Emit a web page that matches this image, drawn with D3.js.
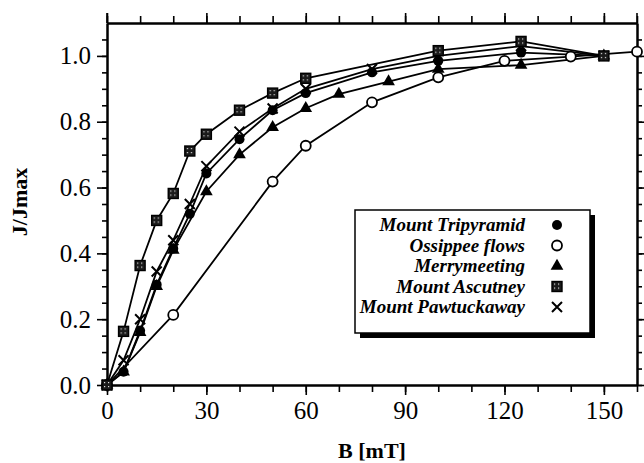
<!DOCTYPE html>
<html>
<head>
<meta charset="utf-8">
<script src="https://cdn.jsdelivr.net/npm/d3@7"></script>
<style>
  body { margin: 0; background: #fff; }
</style>
</head>
<body>
<div id="chart"></div>
<script>
// series values
const bTripyramid = [0, 5, 10, 15, 20, 25, 30, 40, 50, 60, 80, 100, 125, 150];
const jTripyramid = [0, 0.04, 0.165, 0.305, 0.415, 0.52, 0.643, 0.747, 0.835, 0.887, 0.95, 0.985, 1.01, 1.0];

const bOssipee = [0, 20, 50, 60, 80, 100, 120, 140, 160];
const jOssipee = [0, 0.213, 0.618, 0.727, 0.859, 0.935, 0.985, 0.998, 1.013];

const bMerry = [0, 5, 10, 15, 20, 30, 40, 50, 60, 70, 85, 100, 125, 150];
const jMerry = [0, 0.04, 0.16, 0.3, 0.41, 0.588, 0.70, 0.783, 0.841, 0.884, 0.922, 0.96, 0.972, 1.0];

const bAscutney = [0, 5, 10, 15, 20, 25, 30, 40, 50, 60, 100, 125, 150];
const jAscutney = [0, 0.163, 0.363, 0.50, 0.582, 0.711, 0.762, 0.835, 0.887, 0.932, 1.016, 1.044, 1.0];

const bPawtuck = [0, 5, 10, 15, 20, 25, 30, 40, 50, 60, 80, 100, 125, 150];
const jPawtuck = [0, 0.075, 0.2, 0.345, 0.44, 0.55, 0.665, 0.77, 0.84, 0.9, 0.96, 1.0, 1.03, 1.0];

const seriesNames = ["Mount Tripyramid", "Ossippee flows", "Merrymeeting", "Mount Ascutney", "Mount Pawtuckaway"];
const xTicks = [0, 30, 60, 90, 120, 150];
const yTicks = [0, 0.2, 0.4, 0.6, 0.8, 1.0];

const FONT = "Liberation Serif";

const series = [
  {name: seriesNames[2], b: bMerry, j: jMerry, mark: "triangle"},
  {name: seriesNames[1], b: bOssipee, j: jOssipee, mark: "open"},
  {name: seriesNames[4], b: bPawtuck, j: jPawtuck, mark: "x"},
  {name: seriesNames[0], b: bTripyramid, j: jTripyramid, mark: "dot"},
  {name: seriesNames[3], b: bAscutney, j: jAscutney, mark: "square"}
];

const W = 644, H = 463;
const margin = {top: 23, right: 7, bottom: 78, left: 107};
const width = W - margin.left - margin.right;
const height = H - margin.top - margin.bottom;

const svg = d3.select("#chart").append("svg")
  .attr("width", W).attr("height", H);

const defs = svg.append("defs");
const pat = defs.append("pattern")
  .attr("id", "speckle").attr("patternUnits", "userSpaceOnUse")
  .attr("width", 4).attr("height", 4);
pat.append("rect").attr("width", 4).attr("height", 4).attr("fill", "#1a1a1a");
pat.append("rect").attr("x", 1).attr("y", 1).attr("width", 1.2).attr("height", 1.2).attr("fill", "#ddd");

const g = svg.append("g").attr("transform", `translate(${margin.left},${margin.top})`);

const x = d3.scaleLinear().domain([0, 160]).range([0, width]);
const y = d3.scaleLinear().domain([0, 1.1]).range([height, 0]);

// minor ticks
const xMinor = d3.range(0, 161, 10);
const yMinor = d3.range(0, 1.1, 0.05);

function frame(sel) {
  sel.attr("font-family", FONT).attr("font-size", 25);
  sel.select(".domain").attr("stroke-width", 2);
  sel.selectAll(".tick line").attr("stroke-width", 1.6);
  sel.selectAll(".tick text").attr("fill", "#000");
}

g.append("g").attr("transform", `translate(0,${height})`)
  .call(d3.axisBottom(x).tickValues(xMinor).tickSize(7).tickFormat("").tickSizeOuter(0)).call(frame);
g.append("g").attr("transform", `translate(0,${height})`)
  .call(d3.axisBottom(x).tickValues(xTicks).tickSize(10).tickPadding(6).tickSizeOuter(0)).call(frame);

g.append("g")
  .call(d3.axisTop(x).tickValues(xMinor).tickSize(7).tickFormat("").tickSizeOuter(0)).call(frame);
g.append("g")
  .call(d3.axisTop(x).tickValues(xTicks).tickSize(10).tickFormat("").tickSizeOuter(0)).call(frame);

g.append("g")
  .call(d3.axisLeft(y).tickValues(yMinor).tickSize(5).tickFormat("").tickSizeOuter(0)).call(frame);
g.append("g")
  .call(d3.axisLeft(y).tickValues(yTicks).tickSize(10).tickPadding(6).tickFormat(d3.format(".1f")).tickSizeOuter(0)).call(frame);

g.append("g").attr("transform", `translate(${width},0)`)
  .call(d3.axisRight(y).tickValues(yMinor).tickSize(5).tickFormat("").tickSizeOuter(0)).call(frame);
g.append("g").attr("transform", `translate(${width},0)`)
  .call(d3.axisRight(y).tickValues(yTicks).tickSize(10).tickFormat("").tickSizeOuter(0)).call(frame);

// corner ticks that stick out past the frame
g.append("line").attr("x1", 0).attr("x2", 0).attr("y1", -10).attr("y2", 0).attr("stroke", "#000").attr("stroke-width", 1.6);
g.append("line").attr("x1", width).attr("x2", width).attr("y1", -10).attr("y2", 0).attr("stroke", "#000").attr("stroke-width", 1.6);

// lines
const line = d3.line().x(d => x(d[0])).y(d => y(d[1]));
series.forEach(s => {
  const pts = s.b.map((b, i) => [b, s.j[i]]);
  g.append("path").datum(pts)
    .attr("fill", "none").attr("stroke", "#000").attr("stroke-width", 1.8)
    .attr("d", line);
});

function drawMark(sel, type) {
  if (type === "dot") {
    sel.append("circle").attr("r", 5).attr("fill", "#000");
  } else if (type === "open") {
    sel.append("circle").attr("r", 5).attr("fill", "#fff").attr("stroke", "#000").attr("stroke-width", 1.8);
  } else if (type === "triangle") {
    sel.append("path").attr("d", d3.symbol(d3.symbolTriangle, 70)()).attr("fill", "#000");
  } else if (type === "square") {
    sel.append("rect").attr("x", -5).attr("y", -5).attr("width", 10).attr("height", 10)
      .attr("fill", "url(#speckle)").attr("stroke", "#000").attr("stroke-width", 1.4);
  } else if (type === "x") {
    sel.append("path").attr("d", "M-5,-5L5,5M-5,5L5,-5").attr("stroke", "#000").attr("stroke-width", 2).attr("fill", "none");
  }
}

series.forEach(s => {
  s.b.forEach((b, i) => {
    const m = g.append("g").attr("transform", `translate(${x(b)},${y(s.j[i])})`);
    drawMark(m, s.mark);
  });
});

// axis titles
svg.append("text")
  .attr("x", margin.left + x(80)).attr("y", 458)
  .attr("text-anchor", "middle")
  .attr("font-family", FONT).attr("font-size", 22).attr("font-weight", "bold")
  .text("B [mT]");

svg.append("text")
  .attr("transform", `translate(27,202) rotate(-90)`)
  .attr("text-anchor", "middle")
  .attr("font-family", FONT).attr("font-size", 22).attr("font-weight", "bold")
  .text("J/Jmax");

// legend
const lg = svg.append("g");
lg.append("rect").attr("x", 360).attr("y", 215).attr("width", 235).attr("height", 123).attr("fill", "#000");
lg.append("rect").attr("x", 355).attr("y", 210).attr("width", 235).attr("height", 123)
  .attr("fill", "#fff").attr("stroke", "#000").attr("stroke-width", 1.5);

const legendOrder = [
  {name: seriesNames[0], mark: "dot"},
  {name: seriesNames[1], mark: "open"},
  {name: seriesNames[2], mark: "triangle"},
  {name: seriesNames[3], mark: "square"},
  {name: seriesNames[4], mark: "x"}
];
legendOrder.forEach((d, i) => {
  const yy = 225 + i * 20.5;
  lg.append("text").attr("x", 525).attr("y", yy + 6)
    .attr("text-anchor", "end")
    .attr("font-family", FONT).attr("font-size", 19).attr("font-weight", "bold").attr("font-style", "italic")
    .text(d.name);
  const m = lg.append("g").attr("transform", `translate(557,${yy})`);
  drawMark(m, d.mark);
});
</script>
</body>
</html>
